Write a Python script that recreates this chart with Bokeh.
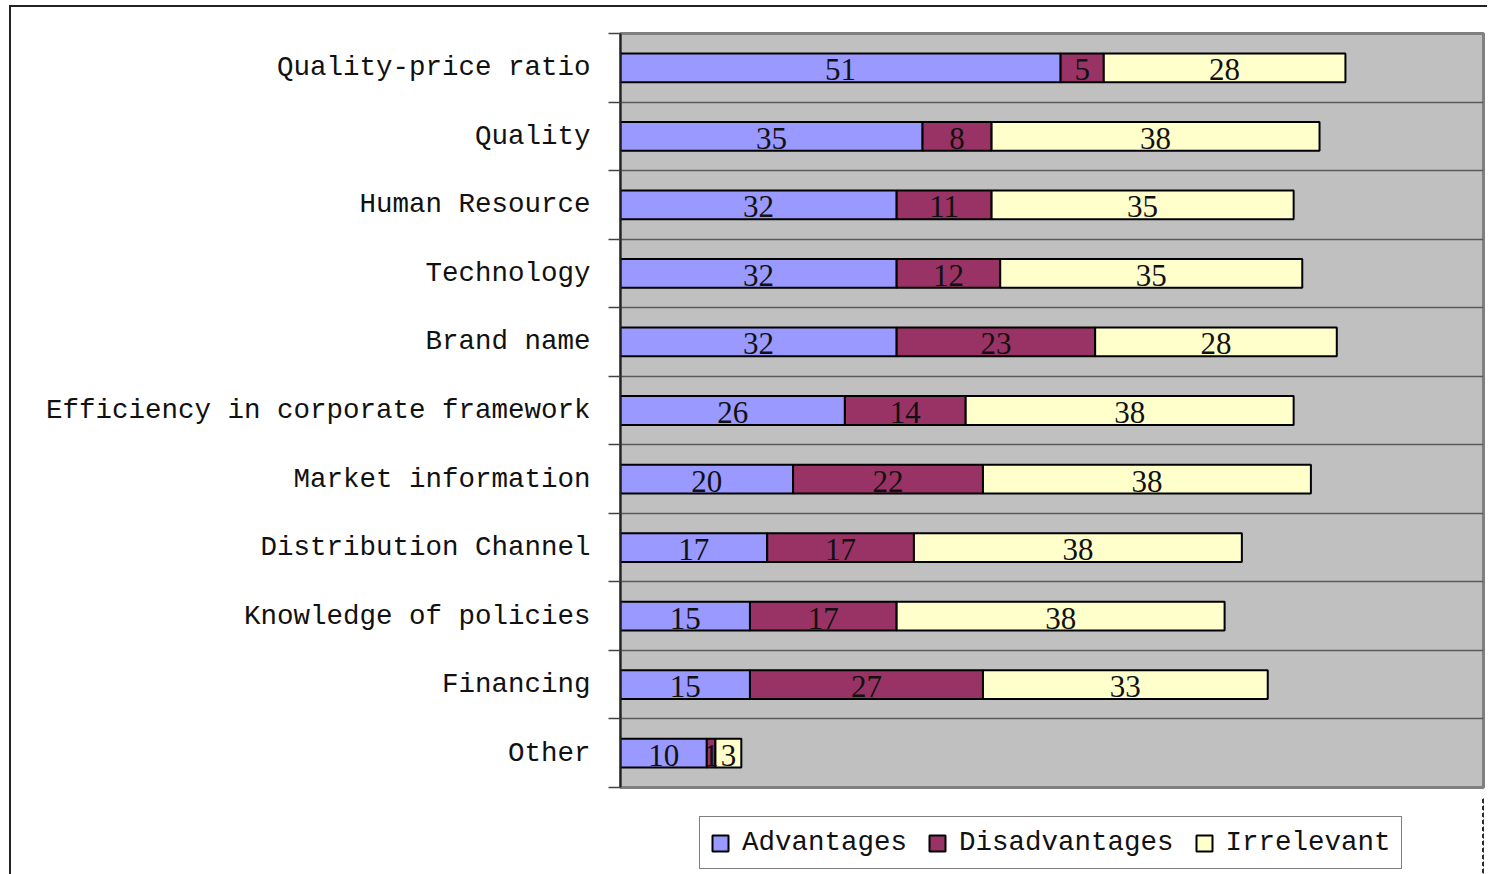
import numpy as np
from bokeh.plotting import figure
from bokeh.layouts import column
from bokeh.models import (ColumnDataSource, FactorRange, Range1d, LinearAxis,
                          CategoricalAxis, FixedTicker, Grid, Legend, LegendItem)
from bokeh.embed import file_html
from bokeh.resources import INLINE
from bokeh.core.properties import value

categories = ["Quality-price ratio", "Quality", "Human Resource", "Technology",
              "Brand name", "Efficiency in corporate framework", "Market information",
              "Distribution Channel", "Knowledge of policies", "Financing", "Other"]
advantages = [51, 35, 32, 32, 32, 26, 20, 17, 15, 15, 10]
disadvantages = [5, 8, 11, 12, 23, 14, 22, 17, 17, 27, 1]
irrelevant = [28, 38, 35, 35, 28, 38, 38, 38, 38, 33, 3]
series_names = ["Advantages", "Disadvantages", "Irrelevant"]
colors = ["#9999FF", "#993366", "#FFFFCC"]

MONO = "Liberation Mono"
SERIF = "Liberation Serif"

data = {"cat": categories, "Advantages": advantages,
        "Disadvantages": disadvantages, "Irrelevant": irrelevant}
source = ColumnDataSource(data)

p = figure(width=1476, height=790,
           y_range=FactorRange(factors=categories[::-1], range_padding=0),
           x_range=Range1d(0, 100),
           x_axis_location=None, y_axis_location=None,
           output_backend="svg", toolbar_location=None,
           min_border_left=609, min_border_right=4,
           min_border_top=26, min_border_bottom=10,
           background_fill_color="#C0C0C0", border_fill_color="white")
p.outline_line_color = "#808080"
p.outline_line_width = 3
p.xgrid.visible = False
p.ygrid.visible = False

# category boundaries in the factor range's synthetic coordinates
boundaries = list(range(len(categories) + 1))
num_axis = LinearAxis(ticker=FixedTicker(ticks=boundaries),
                      major_tick_out=12, major_tick_in=0,
                      minor_tick_line_color=None,
                      major_label_overrides={i: "" for i in boundaries},
                      major_label_standoff=0,
                      axis_line_color="#222222", axis_line_width=2,
                      major_tick_line_color="#444444", major_tick_line_width=1.5)
p.add_layout(num_axis, "left")
cat_axis = CategoricalAxis(axis_line_color=None, major_tick_line_color=None,
                           major_label_text_font=MONO,
                           major_label_text_font_size="27.5px",
                           major_label_text_color="#111111",
                           major_label_standoff=12)
p.add_layout(cat_axis, "left")

grid = Grid(dimension=1, axis=num_axis, ticker=FixedTicker(ticks=boundaries[1:-1]),
            grid_line_color="#5a5a5a", grid_line_width=1.5)
p.add_layout(grid)

p.hbar_stack(series_names, y="cat", height=0.42, color=colors, source=source,
             line_color="black", line_width=2)

vals = np.array([advantages, disadvantages, irrelevant], dtype=float)
lefts = np.vstack([np.zeros(len(categories)), np.cumsum(vals, axis=0)[:-1]])
for i in range(3):
    ls = ColumnDataSource(dict(x=lefts[i] + vals[i] / 2, y=categories,
                               t=[str(int(v)) for v in vals[i]]))
    p.text(x="x", y="y", text="t", source=ls, text_align="center",
           text_baseline="middle", y_offset=2,
           text_font=value(SERIF), text_font_size="31px", text_color="#111111")

# legend strip below the chart (its frame is aligned with the main frame);
# its bars use the same data but lie outside this strip's x range
p2 = figure(width=1476, height=77, x_range=Range1d(-2, -1),
            y_range=FactorRange(factors=categories),
            x_axis_location=None, y_axis_location=None,
            output_backend="svg", toolbar_location=None,
            min_border_left=0, min_border_right=0, min_border_top=0, min_border_bottom=0,
            background_fill_color="white", border_fill_color="white")
p2.outline_line_color = None
p2.xgrid.visible = False
p2.ygrid.visible = False
rs2 = p2.hbar_stack(series_names, y="cat", height=0.42, color=colors, source=source,
                    line_color="black", line_width=2)
items = [LegendItem(label=n, renderers=[r]) for n, r in zip(series_names, rs2)]

lg = Legend(items=items, location=(79, 5), orientation="horizontal")
lg.label_text_font = MONO
lg.label_text_font_size = "27.5px"
lg.label_text_color = "#111111"
lg.glyph_width = 20
lg.glyph_height = 20
lg.label_standoff = 12
lg.spacing = 20
lg.padding = 10
lg.margin = 0
lg.border_line_color = "black"
lg.border_line_width = 1
lg.background_fill_color = "white"
lg.background_fill_alpha = 1
p2.add_layout(lg)

layout = column(p, p2, spacing=0,
                styles={"margin-left": "9px", "margin-top": "5px",
                        "border-left": "2px solid #222", "border-top": "2px solid #222"})

open("out.html", "w").write(file_html(layout, INLINE))
